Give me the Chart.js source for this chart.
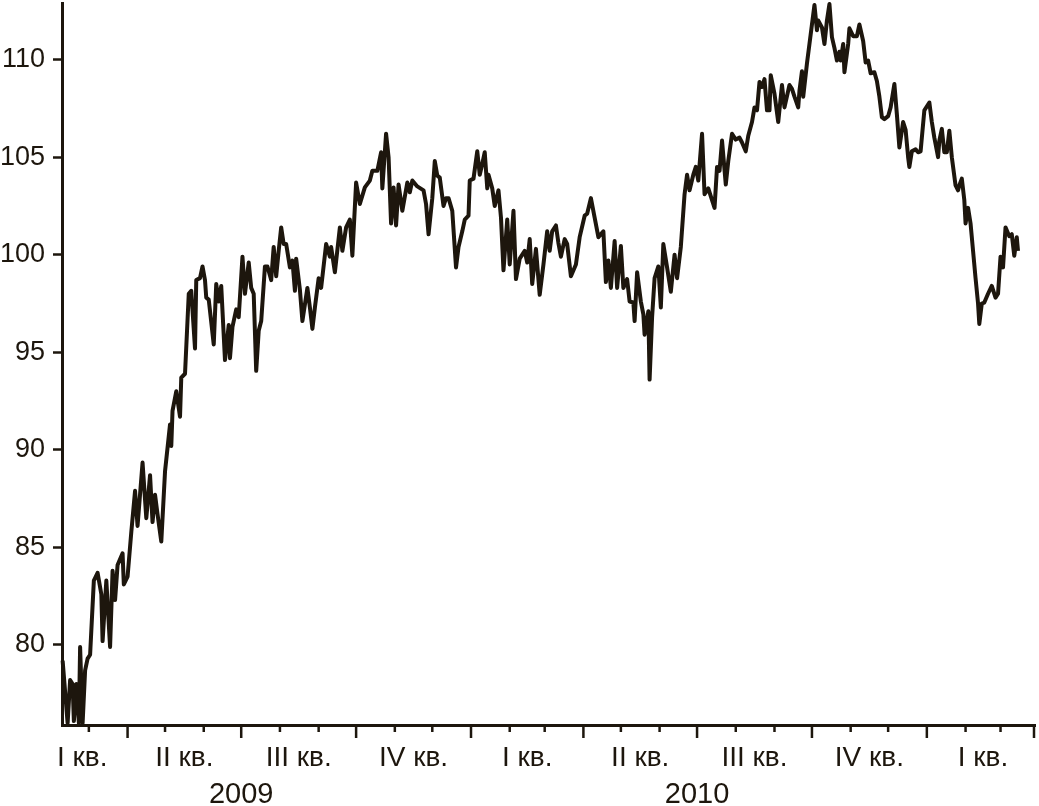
<!DOCTYPE html>
<html>
<head>
<meta charset="utf-8">
<script src="https://cdn.jsdelivr.net/npm/chart.js@4.4.1/dist/chart.umd.min.js"></script>
<style>
  html, body { margin: 0; padding: 0; background: #fff; overflow: hidden; }
  canvas { display: block; }
</style>
</head>
<body>
<canvas id="chart" width="1039" height="806"></canvas>
<script>
// sample days counted from 2009-01-01
const days = [
  38, 42, 44, 46, 47, 49, 51, 52, 54, 56,
  58, 60, 63, 66, 69, 70, 73, 76, 78, 80,
  82, 86, 87, 90, 93, 96, 98, 102, 105, 108,
  110, 112, 114, 117, 120, 124, 125, 126, 129, 132,
  133, 136, 139, 141, 144, 145, 148, 150, 152, 153,
  155, 159, 161, 163, 165, 168, 171, 172, 174, 177,
  179, 182, 184, 187, 189, 191, 193, 195, 197, 200,
  202, 205, 207, 209, 211, 213, 215, 217, 220, 222,
  224, 225, 228, 230, 234, 236, 238, 240, 243, 245,
  249, 252, 253, 256, 260, 262, 265, 268, 270, 273,
  276, 280, 284, 286, 290, 293, 294, 297, 299, 301,
  303, 305, 307, 310, 314, 316, 318, 322, 327, 329,
  331, 334, 336, 338, 340, 343, 345, 347, 350, 353,
  355, 358, 360, 363, 364, 367, 370, 372, 374, 376,
  378, 379, 382, 384, 387, 389, 391, 394, 396, 399,
  401, 404, 408, 410, 412, 414, 417, 420, 423, 426,
  428, 430, 433, 435, 437, 440, 442, 445, 449, 452,
  456, 458, 461, 464, 467, 471, 473, 475, 477, 480,
  482, 485, 487, 490, 492, 495, 496, 498, 501, 503,
  504, 507, 508, 510, 512, 515, 517, 519, 522, 525,
  528, 530, 533, 536, 538, 540, 543, 545, 547, 550,
  552, 555, 558, 560, 562, 564, 566, 569, 571, 574,
  577, 580, 582, 585, 587, 590, 592, 594, 596, 598,
  600, 602, 604, 605, 608, 611, 614, 616, 620, 622,
  624, 627, 628, 630, 631, 634, 636, 640, 642, 643,
  646, 648, 650, 652, 654, 656, 658, 660, 661, 663,
  664, 667, 668, 671, 674, 676, 679, 681, 683, 685,
  688, 690, 692, 694, 696, 699, 701, 704, 706, 708,
  711, 713, 715, 716, 718, 721, 723, 725, 728, 732,
  734, 736, 739, 740, 742, 744, 746, 748, 750, 753,
  755, 756, 758, 760, 761, 763, 765, 767, 769, 771,
  772, 774, 776, 779, 782, 785, 787, 789, 791, 793,
  796, 798, 800, 802, 803
];

const values = [
  79.2, 76.0, 78.2, 78.0, 76.1, 78.0, 76.0, 79.9, 76.0, 78.7,
  79.3, 79.5, 83.3, 83.7, 82.6, 80.2, 83.3, 79.9, 83.8, 82.3,
  84.1, 84.7, 83.1, 83.5, 85.8, 87.9, 86.1, 89.35, 86.5, 88.7,
  86.3, 87.7, 86.7, 85.3, 88.9, 91.3, 90.2, 92.0, 93.0, 91.7,
  93.7, 93.9, 98.0, 98.15, 95.2, 98.7, 98.8, 99.4, 98.7, 97.8,
  97.7, 95.4, 98.5, 97.6, 98.4, 94.6, 96.4, 94.7, 96.3, 97.2,
  96.8, 99.9, 98.0, 99.6, 98.3, 98.0, 94.05, 96.1, 96.6, 99.4,
  99.4, 98.7, 100.4, 98.9, 100.2, 101.4, 100.55, 100.55, 99.35, 99.7,
  98.15, 99.8, 98.2, 96.6, 98.3, 97.3, 96.2, 97.3, 98.8, 98.3,
  100.55, 99.9, 100.4, 99.1, 101.4, 100.2, 101.4, 101.8, 99.95, 103.7,
  102.6, 103.45, 103.8, 104.3, 104.3, 105.25, 103.4, 106.2, 105.0, 101.6,
  103.45, 101.5, 103.6, 102.25, 103.7, 103.2, 103.8, 103.5, 103.3, 102.6,
  101.05, 102.9, 104.8, 104.05, 103.95, 102.5, 102.9, 102.9, 102.25, 99.35,
  100.4, 101.2, 101.8, 102.0, 103.8, 103.9, 105.3, 104.1, 104.65, 105.25,
  103.4, 104.1, 103.4, 102.5, 103.3, 101.9, 99.2, 101.8, 99.5, 102.25,
  98.75, 99.8, 100.2, 99.6, 100.8, 98.5, 100.3, 97.95, 99.5, 101.2,
  100.2, 101.2, 101.5, 100.6, 99.9, 100.8, 100.55, 98.9, 99.5, 100.9,
  102.0, 102.1, 102.9, 101.9, 100.9, 101.2, 98.6, 99.7, 98.3, 100.7,
  98.3, 100.45, 98.3, 98.75, 97.6, 97.55, 96.6, 99.1, 97.6, 96.95,
  95.9, 97.1, 93.6, 96.8, 98.8, 99.4, 97.3, 100.55, 99.35, 98.1,
  100.0, 98.8, 100.4, 103.1, 104.1, 103.3, 104.1, 104.5, 103.8, 106.2,
  103.1, 103.4, 102.8, 102.4, 104.5, 104.3, 105.85, 103.6, 104.8, 106.2,
  105.9, 106.0, 105.75, 105.3, 106.1, 106.8, 107.55, 107.4, 108.85, 108.6,
  109.0, 107.4, 107.4, 109.2, 108.25, 106.8, 108.7, 107.55, 108.7, 108.5,
  108.1, 107.55, 108.4, 109.4, 108.1, 109.8, 110.8, 112.8, 111.5, 112.0,
  111.65, 110.8, 112.0, 112.85, 111.15, 110.6, 109.95, 110.4, 109.95, 110.8,
  109.35, 110.8, 111.6, 111.2, 111.2, 111.8, 110.95, 109.85, 109.95, 109.3,
  109.35, 108.9, 108.1, 107.05, 106.95, 107.1, 107.55, 108.75, 107.2, 105.5,
  106.8, 106.4, 105.0, 104.5, 105.3, 105.4, 105.25, 105.3, 107.4, 107.8,
  106.8, 106.0, 105.0, 105.85, 106.45, 105.25, 105.25, 106.35, 105.0, 103.55,
  103.3, 103.55, 103.9, 102.8, 101.6, 102.4, 101.6, 100.2, 98.8, 97.5,
  96.45, 97.5, 97.55, 98.0, 98.4, 97.8, 98.0, 99.9, 99.35, 101.4,
  100.95, 101.05, 99.95, 100.9, 100.2
];

const yTicks = [80, 85, 90, 95, 100, 105, 110];
const quarterLabels = ['I кв.', 'II кв.', 'III кв.', 'IV кв.', 'I кв.', 'II кв.', 'III кв.', 'IV кв.', 'I кв.'];
const quarterStarts = ['2009-01-01', '2009-04-01', '2009-07-01', '2009-10-01', '2010-01-01',
  '2010-04-01', '2010-07-01', '2010-10-01', '2011-01-01', '2011-04-01'];
const yearLabels = ['2009', '2010'];
const yearCenters = ['2009-07-01', '2010-07-01'];

const ink = '#1d160d';
const origin = Date.UTC(2009, 0, 1);
const dayOf = (s) => {
  const [y, m, d] = s.split('-').map(Number);
  return (Date.UTC(y, m - 1, d) - origin) / 86400000;
};

const quarterDays = quarterStarts.map(dayOf);
const monthDays = [];
for (let y = 2009; y <= 2011; y++) {
  for (let m = 0; m < 12; m++) {
    monthDays.push((Date.UTC(y, m, 1) - origin) / 86400000);
  }
}

// ticks, quarter names and years under the x axis
const axisMarks = {
  id: 'axisMarks',
  afterDraw(chart) {
    const { ctx, chartArea } = chart;
    const xs = chart.scales.x;
    const base = chartArea.bottom;
    ctx.save();
    ctx.strokeStyle = ink;
    ctx.lineWidth = 2.5;
    const tick = (px, len) => {
      ctx.beginPath();
      ctx.moveTo(px, base);
      ctx.lineTo(px, base + len);
      ctx.stroke();
    };
    monthDays.forEach((d) => {
      if (d < xs.min || d > xs.max) return;
      tick(xs.getPixelForValue(d), quarterDays.includes(d) ? 13 : 7);
    });
    tick(chartArea.right - 1, 13);

    ctx.fillStyle = ink;
    ctx.textAlign = 'center';
    ctx.textBaseline = 'alphabetic';
    ctx.font = '28px "Liberation Sans"';
    quarterLabels.forEach((lbl, i) => {
      const w = ctx.measureText(lbl).width;
      let cx = (xs.getPixelForValue(quarterDays[i]) + xs.getPixelForValue(quarterDays[i + 1])) / 2;
      cx = Math.max(cx, chartArea.left - 5 + w / 2);
      cx = Math.min(cx, chartArea.right - w / 2);
      ctx.fillText(lbl, cx, base + 41);
    });

    ctx.font = '29px "Liberation Sans"';
    yearLabels.forEach((lbl, i) => {
      ctx.fillText(lbl, xs.getPixelForValue(dayOf(yearCenters[i])), base + 78);
    });
    ctx.restore();
  }
};

new Chart(document.getElementById('chart'), {
  type: 'line',
  data: {
    datasets: [{
      data: days.map((d, i) => ({ x: d, y: values[i] })),
      borderColor: ink,
      borderWidth: 4,
      pointRadius: 0,
      tension: 0,
      fill: false,
      clip: 4,
      borderJoinStyle: 'round'
    }]
  },
  options: {
    responsive: false,
    animation: false,
    layout: { padding: { top: 3, right: 4, left: 0, bottom: 0 } },
    plugins: {
      legend: { display: false },
      tooltip: { enabled: false }
    },
    scales: {
      x: {
        type: 'linear',
        min: 37.5,
        max: 816.6,
        ticks: { display: false },
        grid: { display: false },
        border: { display: true, color: ink, width: 3 },
        afterFit: (scale) => {
          scale.height = 81;
          scale.paddingLeft = 0;
          scale.paddingRight = 0;
        }
      },
      y: {
        min: 75.9,
        max: 112.9,
        afterBuildTicks: (scale) => { scale.ticks = yTicks.map((v) => ({ value: v })); },
        afterFit: (scale) => {
          scale.width = 62;
          scale.paddingTop = 0;
          scale.paddingBottom = 0;
        },
        ticks: {
          color: ink,
          padding: 8,
          font: { family: '"Liberation Sans"', size: 27 }
        },
        grid: {
          drawOnChartArea: false,
          drawTicks: true,
          tickLength: 9,
          tickWidth: 2.5,
          tickColor: ink
        },
        border: { display: true, color: ink, width: 3 }
      }
    }
  },
  plugins: [axisMarks]
});
</script>
</body>
</html>
